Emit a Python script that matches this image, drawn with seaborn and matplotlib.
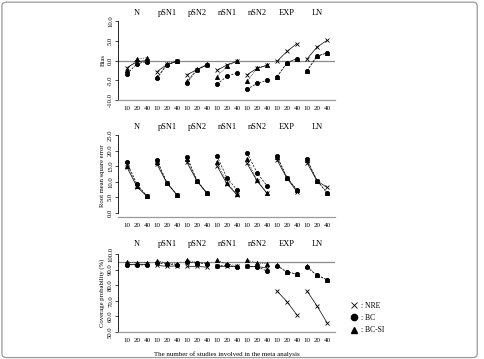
import numpy as np
import pandas as pd
import matplotlib
matplotlib.use("Agg")
import matplotlib.pyplot as plt
import seaborn as sns
from matplotlib.lines import Line2D
from matplotlib.patches import FancyBboxPatch

# distributions and numbers of studies
dists = ["N", "pSN1", "pSN2", "nSN1", "nSN2", "EXP", "LN"]
n_studies = ["10", "20", "40"]
methods = ["NRE", "BC", "BC-SI"]

# Bias (one value per distribution x n_studies, 21 values)
bias_nre = [-1.8, -0.3, 0.0, -2.8, -1.0, -0.2, -3.6, -2.3, -1.1, -2.5, -1.1, -0.2,
            -3.6, -2.0, -1.2, -0.2, 2.3, 4.3, 0.4, 3.4, 5.1]
bias_bc = [-3.4, -0.8, -0.3, -4.5, -1.1, -0.2, -5.7, -2.3, -1.1, -6.0, -4.0, -3.1,
           -7.3, -5.8, -5.0, -4.1, -0.6, 0.5, -2.6, 1.1, 1.9]
bias_bcsi = [-2.3, 0.4, 0.7, -4.2, -1.0, -0.1, -5.3, -2.2, -1.0, -4.1, -1.4, -0.2,
             -5.3, -2.0, -1.2, -4.1, -0.6, 0.5, -2.6, 1.1, 1.9]

# Root mean square error
rmse_nre = [14.6, 8.4, 5.3, 15.6, 9.5, 5.8, 16.2, 10.2, 6.3, 15.1, 9.3, 5.8,
            15.9, 10.3, 6.3, 17.0, 11.1, 6.8, 16.1, 10.3, 8.2]
rmse_bc = [16.2, 9.2, 5.4, 17.0, 9.7, 5.8, 18.0, 10.4, 6.3, 18.3, 11.2, 7.4,
           19.3, 12.9, 8.7, 18.3, 11.3, 7.4, 17.2, 10.4, 6.5]
rmse_bcsi = [15.2, 8.8, 5.4, 16.3, 9.6, 5.8, 17.2, 10.3, 6.3, 16.5, 9.6, 6.0,
             17.2, 10.5, 6.3, 18.0, 11.3, 7.3, 17.0, 10.4, 6.5]

# Coverage probability (%)
cov_nre = [93.8, 93.8, 93.8, 92.7, 92.1, 92.4, 92.1, 92.1, 91.5, 92.1, 92.1, 92.0,
           92.1, 92.0, 91.0, 76.3, 69.4, 60.9, 76.3, 66.7, 56.0]
cov_bc = [93.2, 93.0, 93.0, 94.4, 93.5, 93.0, 94.8, 94.2, 93.8, 92.1, 93.0, 91.5,
          92.1, 91.9, 89.0, 92.5, 88.3, 87.2, 91.5, 86.3, 83.5]
cov_bcsi = [94.8, 94.2, 94.5, 95.8, 94.0, 93.6, 96.0, 94.5, 94.2, 95.9, 93.5, 92.5,
            96.2, 94.2, 93.8, 93.0, 88.5, 87.3, 92.0, 86.5, 83.6]


def long_frame(nre, bc, bcsi):
    rows = []
    for m, vals in zip(methods, [nre, bc, bcsi]):
        for i, v in enumerate(vals):
            rows.append({"dist": dists[i // 3], "n": n_studies[i % 3],
                         "pos": i, "method": m, "value": v})
    return pd.DataFrame(rows)


plt.rcParams["font.family"] = ["Liberation Serif", "DejaVu Serif"]
W, H = 484, 359
fig = plt.figure(figsize=(W / 100, H / 100), dpi=100)

fig.add_artist(FancyBboxPatch((0.004, 0.004), 0.982, 0.99,
                              boxstyle="round,pad=0,rounding_size=0.01",
                              transform=fig.transFigure, fill=False,
                              edgecolor="#9a9a9a", linewidth=0.9))

panels = [
    dict(data=(bias_nre, bias_bc, bias_bcsi), top=21, bot=100, ylim=(-10, 10),
         ticks=[-10, -5, 0, 5, 10], label="Bias", ref=0, title_off=8),
    dict(data=(rmse_nre, rmse_bc, rmse_bcsi), top=135, bot=217, ylim=(-1.3, 25),
         ticks=[0, 5, 10, 15, 20, 25], label="Root mean square error", ref=None,
         title_off=8),
    dict(data=(cov_nre, cov_bc, cov_bcsi), top=254, bot=332, ylim=(50, 100),
         ticks=[50, 60, 70, 80, 90, 100], label="Coverage probability (%)", ref=95,
         title_off=10),
]

styles = {"NRE": dict(marker="x", linestyle="-", markersize=3.0),
          "BC": dict(marker="o", linestyle=(0, (3, 2)), markersize=3.0),
          "BC-SI": dict(marker="^", linestyle=(0, (1, 1.5)), markersize=3.0)}
left, right = 118, 335

for k, p in enumerate(panels):
    ax = fig.add_axes([left / W, 1 - p["bot"] / H, (right - left) / W,
                       (p["bot"] - p["top"]) / H])
    df = long_frame(*p["data"])
    for m in ["NRE", "BC-SI", "BC"]:
        sns.lineplot(data=df[df["method"] == m], x="pos", y="value", units="dist",
                     estimator=None, color="black", linewidth=0.5,
                     markeredgecolor="black", markeredgewidth=0.6,
                     legend=False, ax=ax, **styles[m])
    ax.set_xlim(-0.9, 20.8)
    ax.set_ylim(*p["ylim"])
    if p["ref"] is not None:
        ax.axhline(p["ref"], color="#8c8c8c", linewidth=0.9, zorder=0)
    for s in ["top", "right"]:
        ax.spines[s].set_visible(False)
    ax.spines["left"].set_bounds(p["ticks"][0], p["ticks"][-1])
    ax.spines["left"].set_linewidth(0.6)
    ax.spines["bottom"].set_color("#9a9a9a")
    ax.spines["bottom"].set_linewidth(0.9)
    ax.set_yticks(p["ticks"])
    ax.set_yticklabels([f"{t:.1f}" for t in p["ticks"]], rotation=90,
                       va="center", fontsize=4.8)
    ax.tick_params(axis="y", length=2, width=0.5, pad=1.5)
    ax.set_xticks(range(21))
    ax.set_xticklabels(n_studies * 7, fontsize=5)
    ax.tick_params(axis="x", length=0, pad=4)
    ax.set_xlabel("")
    ax.set_ylabel(p["label"], fontsize=4.8, labelpad=2)
    ax.patch.set_visible(False)
    h = p["bot"] - p["top"]
    for g, d in enumerate(dists):
        ax.text(g * 3 + 1, 1 + p["title_off"] / h, d, fontsize=6,
                ha="center", va="center",
                transform=ax.get_xaxis_transform())
    if k == 2:
        ax.set_xlabel("The number of studies involved in the meta analysis",
                      fontsize=5, labelpad=6)

handles = [Line2D([], [], marker="x", color="black", linestyle="", markersize=5,
                  markeredgewidth=0.6),
           Line2D([], [], marker="o", color="black", linestyle="", markersize=4.5),
           Line2D([], [], marker="^", color="black", linestyle="", markersize=4.5)]
fig.legend(handles, [": NRE", ": BC", ": BC-SI"], loc="upper left",
           bbox_to_anchor=(343 / W, 1 - 295 / H), frameon=False, fontsize=5.5,
           handletextpad=0.2, labelspacing=0.55, handlelength=1.2)

fig.savefig("out.png", dpi=100)
